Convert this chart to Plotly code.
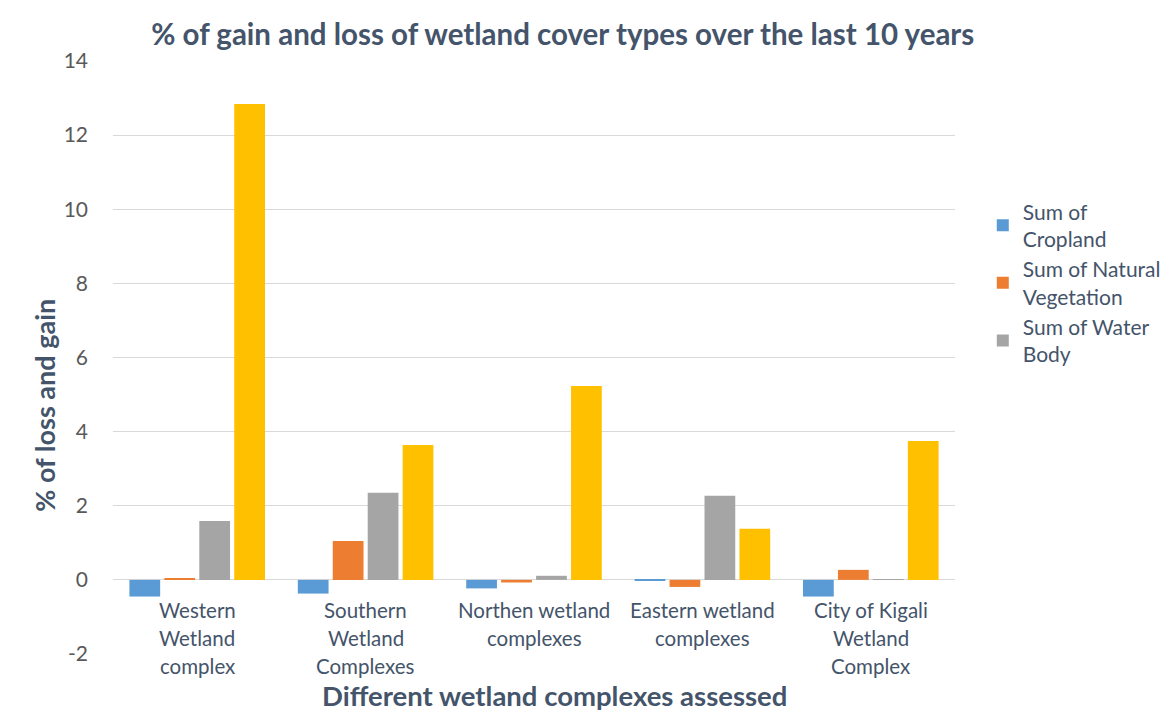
import plotly.graph_objects as go

categories = ["Western Wetland complex", "Southern Wetland Complexes", "Northen wetland complexes",
              "Eastern wetland complexes", "City of Kigali Wetland Complex"]
cat_label_lines = [["Western", "Wetland", "complex"],
                   ["Southern", "Wetland", "Complexes"],
                   ["Northen wetland", "complexes"],
                   ["Eastern wetland", "complexes"],
                   ["City of Kigali", "Wetland", "Complex"]]
cropland = [-0.45, -0.37, -0.23, -0.03, -0.45]
natural_veg = [0.03, 1.05, -0.07, -0.19, 0.27]
water_body = [1.59, 2.35, 0.11, 2.27, 0.02]
built_up = [12.84, 3.64, 5.23, 1.38, 3.75]
y_ticks = [-2, 0, 2, 4, 6, 8, 10, 12, 14]
y_tick_text = ["-2", "0", "2", "4", "6", "8", "10", "12", "14"]

FONT = "Lato"
TXT = "#44546A"

fig = go.Figure()
series = [
    ("Sum of<br>Cropland", cropland, "#5B9BD5", True),
    ("Sum of Natural<br>Vegetation", natural_veg, "#ED7D31", True),
    ("Sum of Water<br>Body", water_body, "#A5A5A5", True),
    ("Sum of Built-up", built_up, "#FFC000", False),
]
for name, vals, col, show in series:
    fig.add_trace(go.Bar(x=categories, y=vals, name=name, marker_color=col,
                         marker_line_width=0, showlegend=show))

for c, lines in zip(categories, cat_label_lines):
    for i, line in enumerate(lines):
        fig.add_annotation(x=c, y=0, xref="x", yref="y", text=line, showarrow=False,
                           yanchor="middle", yshift=-30 - 28 * i,
                           font=dict(family=FONT, size=20.5, color=TXT))

fig.add_annotation(x=-0.081, y=0.42, xref="paper", yref="paper", showarrow=False,
                   text="<b>% of loss and gain</b>", textangle=-90,
                   xanchor="center", yanchor="middle",
                   font=dict(family=FONT, size=27, color=TXT))
fig.add_annotation(x=0.524, y=-0.0705, xref="paper", yref="paper", showarrow=False,
                   text="<b>Different wetland complexes assessed</b>",
                   xanchor="center", yanchor="middle",
                   font=dict(family=FONT, size=27.5, color=TXT))

fig.update_layout(
    width=1170, height=713,
    margin=dict(l=113, r=215, t=61, b=59, autoexpand=False),
    paper_bgcolor="white", plot_bgcolor="white",
    barmode="group", bargap=0.17, bargroupgap=0.12,
    font=dict(family=FONT, color=TXT),
    title=dict(text="<b>% of gain and loss of wetland cover types over the last 10 years</b>",
               x=0.481, xanchor="center", y=0.952, yanchor="middle",
               font=dict(family=FONT, size=29.5, color=TXT)),
    legend=dict(x=1.033, y=0.78, xanchor="left", yanchor="top",
                font=dict(family=FONT, size=21, color=TXT),
                traceorder="normal", itemwidth=30, tracegroupgap=0),
    xaxis=dict(showticklabels=False, showgrid=False, zeroline=False, showline=False),
    yaxis=dict(range=[-2, 14], tickvals=y_ticks, ticktext=y_tick_text,
               showgrid=True, gridcolor="#D9D9D9", gridwidth=1,
               zeroline=True, zerolinecolor="#D9D9D9", zerolinewidth=1,
               tickfont=dict(family=FONT, size=21, color="#595959"), ticks="", ticklabelstandoff=24),
)
fig.write_html("out.html")
